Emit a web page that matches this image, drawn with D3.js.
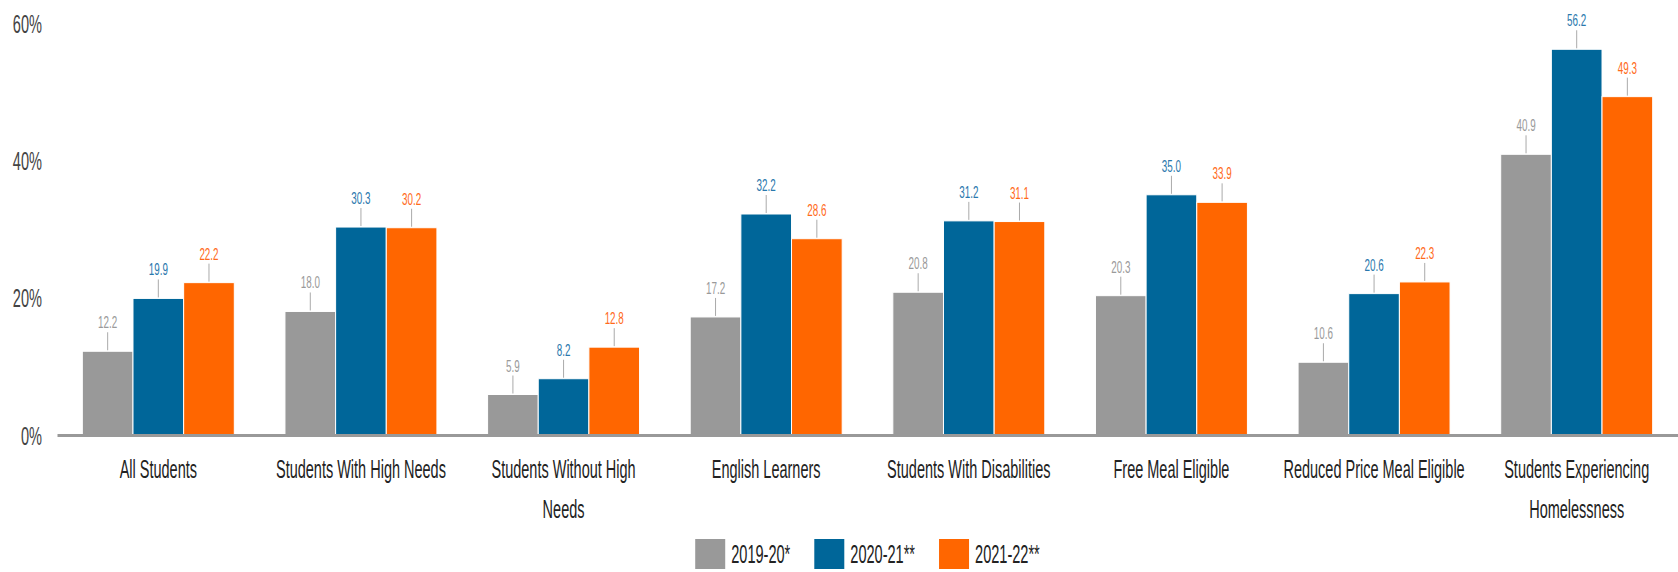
<!DOCTYPE html>
<html>
<head>
<meta charset="utf-8">
<script src="https://cdn.jsdelivr.net/npm/d3@7"></script>
<style>
  body { margin: 0; background: #fff; }
  svg { display: block; font-family: "Liberation Sans", Arial, sans-serif; }
</style>
</head>
<body>
<script>
// chart data
var categories = [
  "All Students",
  "Students With High Needs",
  "Students Without High Needs",
  "English Learners",
  "Students With Disabilities",
  "Free Meal Eligible",
  "Reduced Price Meal Eligible",
  "Students Experiencing Homelessness"
];
var seriesNames = ["2019-20*", "2020-21**", "2021-22**"];
var values2019 = [12.2, 18.0, 5.9, 17.2, 20.8, 20.3, 10.6, 40.9];
var values2020 = [19.9, 30.3, 8.2, 32.2, 31.2, 35.0, 20.6, 56.2];
var values2021 = [22.2, 30.2, 12.8, 28.6, 31.1, 33.9, 22.3, 49.3];
var yTicks = [0, 20, 40, 60];

var colors = ["#999999", "#006699", "#ff6600"];
var labelColors = ["#9a9a9a", "#2a78ad", "#ff6a1a"];

var W = 1678, H = 572;
var left = 57, right = 1678, baseY = 435, topY = 23.2;
var squeeze = 0.58; // the text in the picture is narrow

var data = categories.map(function(c, i) {
  return {
    cat: c,
    vals: [values2019[i], values2020[i], values2021[i]].map(function(v, j) {
      return { name: seriesNames[j], value: v, idx: j };
    })
  };
});

var x0 = d3.scaleBand()
  .domain(categories)
  .range([left, right])
  .paddingInner(0.25)
  .paddingOuter(0.125);

var x1 = d3.scaleBand()
  .domain(seriesNames)
  .range([0, x0.bandwidth()]);

var y = d3.scaleLinear().domain([0, 60]).range([baseY, topY]);

var svg = d3.select("body").append("svg")
  .attr("width", W)
  .attr("height", H);

// bars
var group = svg.selectAll(".grp")
  .data(data)
  .enter().append("g")
  .attr("class", "grp")
  .attr("transform", function(d) { return "translate(" + x0(d.cat) + ",0)"; });

group.selectAll("rect")
  .data(function(d) { return d.vals; })
  .enter().append("rect")
  .attr("x", function(d) { return x1(d.name); })
  .attr("y", function(d) { return y(d.value); })
  .attr("width", x1.bandwidth())
  .attr("height", function(d) { return baseY - y(d.value); })
  .style("fill", function(d) { return colors[d.idx]; })
  .style("stroke", "#fff")
  .style("stroke-width", 1);

// leader lines + value labels
group.selectAll(".lead")
  .data(function(d) { return d.vals; })
  .enter().append("line")
  .attr("class", "lead")
  .attr("x1", function(d) { return x1(d.name) + x1.bandwidth() / 2; })
  .attr("x2", function(d) { return x1(d.name) + x1.bandwidth() / 2; })
  .attr("y1", function(d) { return y(d.value) - 1; })
  .attr("y2", function(d) { return y(d.value) - 19; })
  .style("stroke", "#aaa")
  .style("stroke-width", 1);

group.selectAll(".val")
  .data(function(d) { return d.vals; })
  .enter().append("text")
  .attr("class", "val")
  .attr("transform", function(d) {
    return "translate(" + (x1(d.name) + x1.bandwidth() / 2) + "," + (y(d.value) - 23) + ") scale(" + squeeze + ",1)";
  })
  .attr("text-anchor", "middle")
  .style("font-size", "17px")
  .style("fill", function(d) { return labelColors[d.idx]; })
  .text(function(d) { return d3.format(".1f")(d.value); });

// y axis
var yAxis = d3.axisLeft(y)
  .tickValues(yTicks)
  .tickSize(0)
  .tickFormat(function(d) { return d + "%"; });

var yg = svg.append("g").call(yAxis);
yg.select(".domain").remove();
yg.selectAll("text")
  .attr("x", 0)
  .attr("dy", "0.35em")
  .attr("transform", "translate(42,0) scale(0.56,1)")
  .attr("text-anchor", "end")
  .style("font-size", "26px")
  .style("font-family", "Liberation Sans, Arial, sans-serif")
  .style("fill", "#444");

// x axis
var xAxis = d3.axisBottom(x0).tickSize(0).tickSizeOuter(0);
var xg = svg.append("g")
  .attr("transform", "translate(0," + baseY + ")")
  .call(xAxis);

xg.select(".domain")
  .style("stroke", "#999")
  .style("stroke-width", 3);

xg.selectAll("text")
  .attr("y", 43)
  .attr("dy", 0)
  .attr("transform", "scale(" + squeeze + ",1)")
  .style("font-size", "25px")
  .style("font-family", "Liberation Sans, Arial, sans-serif")
  .style("fill", "#222")
  .call(wrap, 188 / squeeze);

function wrap(text, width) {
  text.each(function() {
    var t = d3.select(this),
      words = t.text().split(/\s+/),
      line = [],
      lineNo = 0,
      tspan = t.text(null).append("tspan").attr("x", 0).attr("y", 43);
    words.forEach(function(w) {
      line.push(w);
      tspan.text(line.join(" "));
      if (tspan.node().getComputedTextLength() > width && line.length > 1) {
        line.pop();
        tspan.text(line.join(" "));
        line = [w];
        lineNo++;
        tspan = t.append("tspan").attr("x", 0).attr("y", 43 + lineNo * 40).text(w);
      }
    });
  });
}

// legend
var legend = svg.append("g").attr("class", "legend");
var lx = 0;
seriesNames.forEach(function(name, i) {
  var item = legend.append("g").attr("transform", "translate(" + lx + ",0)");
  item.append("rect")
    .attr("x", 0)
    .attr("y", 539)
    .attr("width", 30)
    .attr("height", 30)
    .style("fill", colors[i]);
  var txt = item.append("text")
    .attr("transform", "translate(36,563) scale(0.56,1)")
    .style("font-size", "26px")
    .style("fill", "#222")
    .text(name);
  lx += 36 + txt.node().getComputedTextLength() * 0.56 + 24;
});
var legendW = lx - 24;
legend.attr("transform", "translate(" + ((left + right) / 2 - legendW / 2) + ",0)");
</script>
</body>
</html>
